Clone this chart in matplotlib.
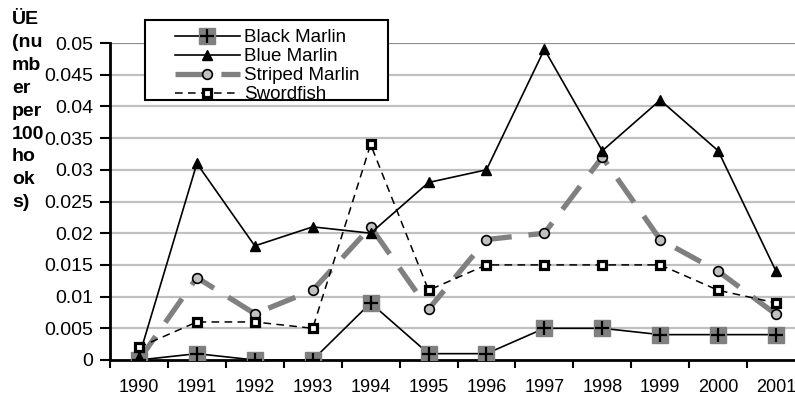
import matplotlib
matplotlib.use("Agg")
import matplotlib.pyplot as plt
from matplotlib.legend_handler import HandlerTuple
from matplotlib.patches import Rectangle

plt.rcParams["font.family"] = ["Liberation Sans", "DejaVu Sans"]

years = ["1990", "1991", "1992", "1993", "1994", "1995",
         "1996", "1997", "1998", "1999", "2000", "2001"]
black_marlin = [0, 0.001, 0, 0, 0.009, 0.001, 0.001, 0.005, 0.005, 0.004, 0.004, 0.004]
blue_marlin = [0.0005, 0.031, 0.018, 0.021, 0.020, 0.028, 0.030, 0.049, 0.033, 0.041, 0.033, 0.014]
striped_marlin = [0, 0.013, 0.0073, 0.011, 0.021, 0.008, 0.019, 0.020, 0.032, 0.019, 0.014, 0.0072]
swordfish = [0.002, 0.006, 0.006, 0.005, 0.034, 0.011, 0.015, 0.015, 0.015, 0.015, 0.011, 0.009]
yticks = [0, 0.005, 0.01, 0.015, 0.02, 0.025, 0.03, 0.035, 0.04, 0.045, 0.05]
ylabel = "ÜE\n(nu\nmb\ner\nper\n100\nho\nok\ns)"

W, H = 795, 405
fig = plt.figure(figsize=(W / 100, H / 100), dpi=100)
ax = fig.add_axes([110 / W, 45 / H, 695 / W, 317 / H])
x = list(range(len(years)))

# horizontal gridlines, the top one a bit darker
for v in yticks[1:]:
    ax.axhline(v, color="#8c8c8c" if v == yticks[-1] else "#c0c0c0",
               lw=1.6, zorder=0)

sq, = ax.plot(x, black_marlin, color="black", lw=1.2, marker="s", ms=11,
              mfc="#808080", mec="#808080", zorder=3)
plus, = ax.plot(x, black_marlin, ls="none", marker="+", ms=10, mew=1.6,
                color="black", zorder=4)
blue, = ax.plot(x, blue_marlin, color="black", lw=1.2, marker="^", ms=7,
                mfc="black", mec="black", zorder=3)
striped, = ax.plot(x, striped_marlin, color="#808080", lw=3.8,
                   dashes=(5.5, 3.2), marker="o", ms=7, mfc="#c0c0c0",
                   mec="black", mew=1.2, zorder=2)
sword, = ax.plot(x, swordfish, color="black", lw=1.1, dashes=(5, 3.5),
                 marker="s", ms=6, mfc="white", mec="black", mew=2.3,
                 zorder=3)

ax.set_xlim(-0.5, len(years) - 0.5)
ax.set_ylim(0, 0.05)
ax.set_yticks(yticks)
ax.set_yticklabels(["0", "0.005", "0.01", "0.015", "0.02", "0.025",
                    "0.03", "0.035", "0.04", "0.045", "0.05"])
ax.set_xticks(x)
ax.set_xticklabels(years)
ax.set_xticks([i - 0.5 for i in range(len(years) + 1)], minor=True)
ax.tick_params(axis="x", which="major", length=0, pad=14, labelsize=13)
ax.tick_params(axis="x", which="minor", length=6, width=1.5, direction="out")
ax.tick_params(axis="y", length=7, width=1.5, labelsize=14, pad=5)

for side in ("top", "right"):
    ax.spines[side].set_visible(False)
for side in ("left", "bottom"):
    ax.spines[side].set_linewidth(2)

fig.text(0.015, 0.972, ylabel, ha="left", va="top", fontsize=14,
         fontweight="bold", linespacing=1.45)

# legend without its own frame; the box is drawn separately behind it
leg = ax.legend([(sq, plus), blue, striped, sword],
                ["Black Marlin", "Blue Marlin", "Striped Marlin", "Swordfish"],
                handler_map={tuple: HandlerTuple(ndivide=1)},
                loc="upper left", bbox_to_anchor=(175 / W, 1 - 29 / H),
                bbox_transform=fig.transFigure, fontsize=13.5, frameon=False,
                handlelength=3.45, labelspacing=0.1, borderpad=0,
                handletextpad=0.25, borderaxespad=0)
leg.set_zorder(6)
ax.add_patch(Rectangle((145 / W, 1 - 100 / H), 243 / W, 80 / H,
                       transform=fig.transFigure, clip_on=False,
                       facecolor="white", edgecolor="black", lw=1.5,
                       zorder=5))

fig.savefig("out.png", dpi=100)
